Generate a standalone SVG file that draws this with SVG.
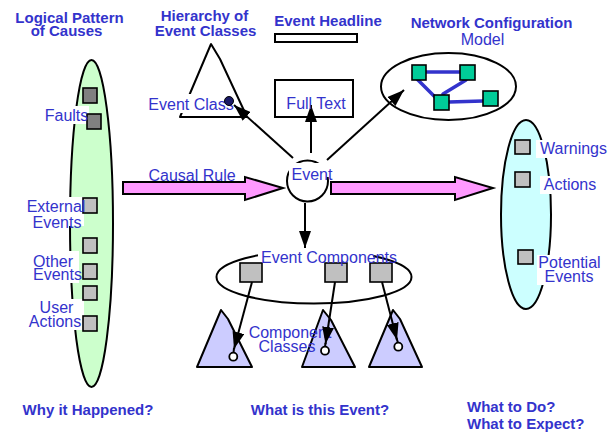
<svg xmlns="http://www.w3.org/2000/svg" width="611" height="432" viewBox="0 0 611 432">
  <style>
    .lbl { font-family: "Liberation Sans", Arial, sans-serif; font-size: 16px; fill: #3333cc; }
    .ttl { font-family: "Liberation Sans", Arial, sans-serif; font-size: 15px; font-weight: bold; fill: #3333cc; }
    .mid { text-anchor: middle; }
    .ln { fill: none; stroke: #000; stroke-width: 2; }
    .bg { fill: #fff; stroke: none; }
    .sq { fill: #c0c0c0; stroke: #000; stroke-width: 1.6; }
    .sqd { fill: #808080; stroke: #000; stroke-width: 1.6; }
    .net { fill: #00cc99; stroke: #000; stroke-width: 1.6; }
    .nl { stroke: #3333cc; stroke-width: 3.5; stroke-linecap: round; }
    .tri { fill: #ccccff; stroke: #000; stroke-width: 2; stroke-linejoin: round; }
    .big { fill: #ff99ff; stroke: #000; stroke-width: 2; stroke-linejoin: miter; }
    .arr { fill: none; stroke: #000; stroke-width: 2; marker-end: url(#head); }
  </style>
  <defs>
    <marker id="head" markerUnits="userSpaceOnUse" markerWidth="18" markerHeight="12" refX="17" refY="6" orient="auto">
      <path d="M0,0 L17,6 L0,12 z" fill="#000"/>
    </marker>
  </defs>

  <rect width="611" height="432" fill="#fff"/>

  <!-- titles -->
  <g id="titles">
    <text class="ttl mid" x="69.5" y="23">Logical Pattern</text>
    <text class="ttl mid" x="66.5" y="36">of Causes</text>
    <text class="ttl mid" x="204.5" y="21">Hierarchy of</text>
    <text class="ttl mid" x="205.5" y="36">Event Classes</text>
    <text class="ttl mid" x="491.5" y="28">Network Configuration</text>
    <text class="lbl mid" x="482.5" y="45">Model</text>
    <text class="ttl mid" x="88" y="415">Why it Happened?</text>
    <text class="ttl mid" x="320" y="415">What is this Event?</text>
    <text class="ttl" x="467" y="412">What to Do?</text>
    <text class="ttl" x="467" y="429">What to Expect?</text>
  </g>

  <!-- causes -->
  <g id="causes">
    <ellipse cx="91.5" cy="223.5" rx="21.5" ry="163.5" fill="#ccffcc" stroke="#000" stroke-width="2"/>
    <rect class="bg" x="44" y="106" width="45" height="18"/>
    <rect class="bg" x="28" y="197" width="56" height="29"/>
    <rect class="bg" x="32" y="251" width="47" height="32"/>
    <rect class="bg" x="26" y="299" width="58" height="31"/>
    <rect class="sqd" x="83" y="88" width="14" height="15"/>
    <rect class="sqd" x="87" y="114" width="14" height="15"/>
    <rect class="sq" x="83" y="198" width="14" height="15"/>
    <rect class="sq" x="83" y="238" width="14" height="15"/>
    <rect class="sq" x="83" y="264" width="14" height="15"/>
    <rect class="sq" x="83" y="286" width="14" height="14"/>
    <rect class="sq" x="83" y="316" width="14" height="15"/>
    <text class="lbl mid" x="66.5" y="121">Faults</text>
    <text class="lbl mid" x="56" y="212">External</text>
    <text class="lbl mid" x="57" y="228">Events</text>
    <text class="lbl mid" x="53" y="267">Other</text>
    <text class="lbl mid" x="57.5" y="280">Events</text>
    <text class="lbl mid" x="56.5" y="313">User</text>
    <text class="lbl mid" x="55" y="327">Actions</text>
  </g>

  <!-- event class hierarchy -->
  <g id="hierarchy">
    <path class="ln" d="M211,44 L180,117 L247,117 L220,59 Z" fill="#fff" stroke-linejoin="round"/>
    <rect class="bg" x="148" y="94" width="80" height="19"/>
    <text class="lbl mid" x="191" y="110">Event Class</text>
    <circle cx="229" cy="101" r="4.5" fill="#1a1a66" stroke="#000" stroke-width="1"/>
  </g>

  <!-- headline -->
  <g id="headline">
    <text class="ttl mid" x="328" y="26">Event Headline</text>
    <rect x="275" y="34" width="82" height="8" fill="#fff" stroke="#000" stroke-width="2"/>
  </g>

  <!-- full text -->
  <g id="fulltext">
    <rect x="275" y="80" width="78" height="37" fill="#fff" stroke="#000" stroke-width="2"/>
  </g>

  <!-- network model -->
  <g id="network">
    <ellipse cx="448.5" cy="86.5" rx="67.5" ry="33.5" fill="#fff" stroke="#000" stroke-width="2"/>
    <line class="nl" x1="426" y1="72" x2="460" y2="72"/>
    <line class="nl" x1="417" y1="79" x2="438" y2="100"/>
    <line class="nl" x1="466" y1="80" x2="443" y2="94"/>
    <line class="nl" x1="449" y1="102" x2="483" y2="101"/>
    <rect class="net" x="412" y="65" width="14" height="15"/>
    <rect class="net" x="460" y="65" width="15" height="15"/>
    <rect class="net" x="434" y="95" width="15" height="15"/>
    <rect class="net" x="483" y="91" width="15" height="15"/>
  </g>

  <!-- consequences -->
  <g id="outcomes">
    <ellipse cx="526" cy="214.5" rx="25" ry="94.5" fill="#ccffff" stroke="#000" stroke-width="2"/>
    <rect class="bg" x="536" y="140" width="74" height="18"/>
    <rect class="bg" x="540" y="176" width="60" height="18"/>
    <rect class="bg" x="537" y="255" width="66" height="30"/>
    <rect class="sq" x="515" y="140" width="15" height="14"/>
    <rect class="sq" x="515" y="172" width="15" height="15"/>
    <rect class="sq" x="518" y="250" width="15" height="14"/>
    <text class="lbl mid" x="573.5" y="154">Warnings</text>
    <text class="lbl mid" x="570" y="190">Actions</text>
    <text class="lbl mid" x="569.5" y="268">Potential</text>
    <text class="lbl mid" x="569" y="282">Events</text>
  </g>

  <!-- event components -->
  <g id="components">
    <ellipse cx="314" cy="277" rx="97.5" ry="26.5" fill="#fff" stroke="#000" stroke-width="2"/>
    <rect class="bg" x="258" y="249" width="115" height="17"/>
    <rect class="sq" x="240" y="263" width="22" height="19"/>
    <rect class="sq" x="325" y="263" width="22" height="19"/>
    <rect class="sq" x="370" y="263" width="22" height="19"/>
    <text class="lbl mid" x="329" y="263">Event Components</text>
  </g>

  <!-- component classes -->
  <g id="classes">
    <path class="tri" d="M197,367 L221,310 L228,319 L252,367 Z"/>
    <path class="tri" d="M302,367 L323,310 L331,320 L355,367 Z"/>
    <path class="tri" d="M369,367 L393,310 L400,319 L422,367 Z"/>
    <text class="lbl mid" x="290" y="338">Component</text>
    <text class="lbl mid" x="287" y="352">Classes</text>
  </g>

  <!-- event -->
  <g id="event">
    <circle cx="307.5" cy="181" r="20.5" fill="#fff" stroke="#000" stroke-width="2"/>
    <rect class="bg" x="289" y="163" width="44" height="14"/>
    <text class="lbl mid" x="312" y="180">Event</text>
  </g>

  <!-- connectors -->
  <g id="connectors">
    <polygon class="big" points="123,182 245,182 245,177 283,188 245,200 245,194 123,194"/>
    <polygon class="big" points="331,182 455,182 455,177 493,188 455,200 455,194 331,194"/>
    <line class="arr" x1="293" y1="158" x2="234" y2="105"/>
    <line class="arr" x1="311" y1="153" x2="311" y2="105"/>
    <line class="arr" x1="327" y1="160" x2="404" y2="90"/>
    <line class="arr" x1="305" y1="203" x2="305" y2="248"/>
    <line class="arr" x1="252" y1="282" x2="234" y2="349"/>
    <line class="arr" x1="335" y1="282" x2="325.5" y2="344"/>
    <line class="arr" x1="382" y1="282" x2="397" y2="340"/>
    <line class="ln" x1="234" y1="348" x2="233.5" y2="353"/>
    <line class="ln" x1="325.5" y1="343" x2="325" y2="347"/>
    <line class="ln" x1="396.5" y1="338" x2="398" y2="343"/>
    <circle cx="233.3" cy="356.7" r="4" fill="#fff" stroke="#000" stroke-width="1.8"/>
    <circle cx="325" cy="350.7" r="4" fill="#fff" stroke="#000" stroke-width="1.8"/>
    <circle cx="398.3" cy="346.7" r="4" fill="#fff" stroke="#000" stroke-width="1.8"/>
  </g>

  <!-- labels drawn over connectors -->
  <g id="overlay-labels">
    <text class="lbl mid" x="192" y="181">Causal Rule</text>
    <text class="lbl mid" x="316" y="109">Full Text</text>
  </g>
</svg>
